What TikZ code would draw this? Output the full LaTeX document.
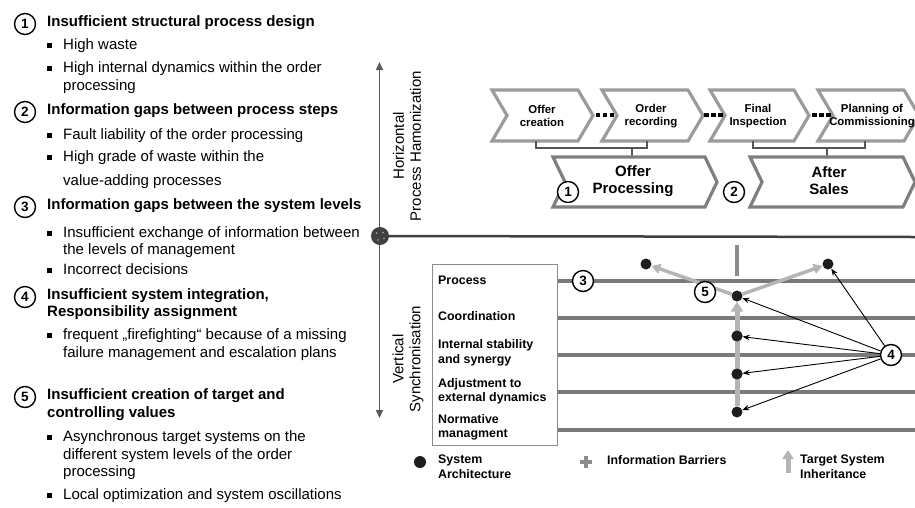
\documentclass[tikz,border=0pt]{standalone}
\usepackage{fontspec}
\setmainfont{Liberation Sans}
\usetikzlibrary{arrows.meta,calc}
\definecolor{axg}{HTML}{5A5A5A}
\definecolor{hax}{HTML}{404040}
\definecolor{lvl}{HTML}{7A7A7A}
\definecolor{chs}{HTML}{9B9B9B}
\definecolor{chb}{HTML}{7F7F7F}
\definecolor{brk}{HTML}{555555}
\definecolor{boxc}{HTML}{8A8A8A}
\definecolor{barr}{HTML}{8C8C8C}
\definecolor{inhc}{HTML}{B5B5B5}
\definecolor{dotc}{HTML}{1E1E1E}
\newcommand\bul{\makebox[16pt][l]{\rule[1.8pt]{4.5pt}{4.5pt}}}
\newcommand\chevshape[6]{%
  \draw[#6] (#1,#3) -- ({#2-#5},#3) -- (#2,{(#3+#4)/2}) -- ({#2-#5},#4) -- (#1,#4) -- ({#1+#5},{(#3+#4)/2}) -- cycle;}
\newcommand\sqdots{\rule{4.5pt}{4.5pt}\hspace{2.5pt}\rule{4.5pt}{4.5pt}\hspace{2.5pt}\rule{4.5pt}{4.5pt}}
\begin{document}
\begin{tikzpicture}[x=1pt,y=-1pt,
  lt/.style={anchor=mid west,inner sep=0pt,font=\fontsize{15}{17}\selectfont},
  lh/.style={anchor=mid west,inner sep=0pt,font=\fontsize{15}{17}\selectfont\bfseries},
  bl/.style={anchor=mid west,inner sep=0pt,font=\fontsize{12.4}{14.5}\selectfont\bfseries},
  cht/.style={align=center,inner sep=0pt,font=\fontsize{11.4}{13}\selectfont\bfseries},
  bigt/.style={align=center,inner sep=0pt,font=\fontsize{15}{17}\selectfont\bfseries},
  numc/.style={circle,draw=black,line width=1.4pt,fill=white,minimum size=21pt,inner sep=0pt,font=\fontsize{13.5}{15}\selectfont\bfseries},
  dotn/.style={circle,fill=dotc,minimum size=11pt,inner sep=0pt},
  lvline/.style={draw=lvl,line width=4pt},
  chsmall/.style={draw=chs,line width=3.2pt,fill=white},
  chbig/.style={draw=chb,line width=3.2pt,fill=white},
  brack/.style={draw=brk,line width=2.5pt},
  garrow/.style={draw=inhc,line width=3.5pt,-{Triangle[length=9pt,width=10pt]}},
  garrowk/.style={draw=inhc,line width=5pt,-{Triangle[length=10pt,width=12pt]}},
  barrow/.style={draw=black,line width=0.9pt,-{Stealth[length=7pt,width=5.5pt]}},
  axisv/.style={draw=axg,line width=1.6pt,{Triangle[length=8pt,width=7pt]}-{Triangle[length=8pt,width=7pt]}},
  axish/.style={draw=hax,line width=2.5pt}]
\useasboundingbox (0,0) rectangle (915,507);
\clip (0,0) rectangle (915,507);

% ---------------- left text column ----------------
\node[numc] (c1) at (25,24) {1};
\node[lh] (h1) at (47,24) {Insufficient structural process design};
\node[lt] (b1) at (47,47) {\bul High waste};
\node[lt] (b2) at (47,70) {\bul High internal dynamics within the order};
\node[lt] (b2b) at (63,88) {processing};
\node[numc] (c2) at (25,112) {2};
\node[lh] (h2) at (47,112) {Information gaps between process steps};
\node[lt] (b3) at (47,137) {\bul Fault liability of the order processing};
\node[lt] (b4) at (47,159) {\bul High grade of waste within the};
\node[lt] (b4b) at (63,183) {value-adding processes};
\node[numc] (c3) at (25,207) {3};
\node[lh] (h3) at (47,207) {Information gaps between the system levels};
\node[lt] (b5) at (47,235) {\bul Insufficient exchange of information between};
\node[lt] (b5b) at (63,252) {the levels of management};
\node[lt] (b6) at (47,272) {\bul Incorrect decisions};
\node[numc] (c4) at (25,297) {4};
\node[lh] (h4) at (47,297) {Insufficient system integration,};
\node[lh] (h4b) at (47,314) {Responsibility assignment};
\node[lt] (b7) at (47,337) {\bul frequent „firefighting“ because of a missing};
\node[lt] (b7b) at (63,355) {failure management and escalation plans};
\node[numc] (c5) at (25,397) {5};
\node[lh] (h5) at (47,397) {Insufficient creation of target and};
\node[lh] (h5b) at (47,415) {controlling values};
\node[lt] (b8) at (47,439) {\bul Asynchronous target systems on the};
\node[lt] (b8b) at (63,457) {different system levels of the order};
\node[lt] (b8c) at (63,474) {processing};
\node[lt] (b9) at (47,497) {\bul Local optimization and system oscillations};

% ---------------- axes ----------------
\coordinate (vtop) at (379.5,62);
\coordinate (vbot) at (379.5,418);
\coordinate (hend) at (915,237);
\draw[axisv] (vtop) -- (vbot);
\node[circle,fill=hax,minimum size=18pt,inner sep=0pt] (o) at (380,236) {};
\draw[axish] (o) -- (hend);
\foreach \dx/\dy [count=\i] in {-3.5/-3,3/-3.5,-2/4,4/2.5}
  \node[circle,fill=gray!70,minimum size=1.6pt,inner sep=0pt] (sp\i) at ($(o)+(\dx,\dy)$) {};
\node[rotate=90,align=center,font=\fontsize{15}{17}\selectfont] (hph) at (407,146) {Horizontal\\Process Hamonization};
\node[rotate=90,align=center,font=\fontsize{15}{17}\selectfont] (vsy) at (408,359) {Vertical\\Synchronisation};

% ---------------- process chevrons ----------------
\chevshape{492}{593}{90}{141}{15}{chsmall}
\chevshape{602}{703}{90}{141}{15}{chsmall}
\chevshape{710}{809}{90}{141}{15}{chsmall}
\chevshape{818}{919}{90}{141}{15}{chsmall}
\node[cht] (t1) at (542,116) {Offer\\creation};
\node[cht] (t2) at (651,116) {Order\\recording};
\node[cht] (t3) at (758,116) {Final\\Inspection};
\node[cht] (t4) at (872,116) {Planning of\\Commissioning};
\node[inner sep=0pt] (dd1) at (605,115) {\sqdots};
\node[inner sep=0pt] (dd2) at (713.5,115) {\sqdots};
\node[inner sep=0pt] (dd3) at (821.5,115) {\sqdots};

% brackets
\coordinate (ba1) at (536,141); \coordinate (ba2) at (647,141);
\coordinate (bam) at (632,148); \coordinate (bat) at (632,157);
\draw[brack] (ba1) -- (536,148) -- (647,148) -- (ba2);
\draw[brack] (bam) -- (bat);
\coordinate (bb1) at (753,141); \coordinate (bb2) at (865,141);
\coordinate (bbm) at (827,148); \coordinate (bbt) at (827,157);
\draw[brack] (bb1) -- (753,148) -- (865,148) -- (bb2);
\draw[brack] (bbm) -- (bbt);

\chevshape{553}{717}{157}{207}{12}{chbig}
\chevshape{750}{915}{157}{207}{12}{chbig}
\node[bigt] (op) at (633,181) {Offer\\Processing};
\node[bigt] (as) at (829,181) {After\\Sales};
\node[numc] (n1) at (568,192) {1};
\node[numc] (n2) at (734,192) {2};

% ---------------- system levels ----------------
\node[draw=boxc,line width=0.8pt,fill=white,minimum width=125pt,minimum height=181pt,anchor=north west,inner sep=0pt] (box) at (432,264) {};
\foreach \yy in {281,318,355,392,430}
  \draw[lvline] (box.east |- 0,\yy) -- (915,\yy);
\node[bl] (l1) at (438,282) {Process};
\node[bl] (l2) at (438,318) {Coordination};
\node[bl] (l3) at (438,346) {Internal stability};
\node[bl] (l3b) at (438,361) {and synergy};
\node[bl] (l4) at (438,385) {Adjustment to};
\node[bl] (l4b) at (438,399) {external dynamics};
\node[bl] (l5) at (438,421) {Normative};
\node[bl] (l5b) at (438,435) {managment};
\node[numc] (n3) at (583,281) {3};

% information barrier
\coordinate (ib1) at (737,245); \coordinate (ib2) at (737,276);
\draw[draw=barr,line width=4pt] (ib1) -- (ib2);

% system architecture dots
\node[dotn] (d0) at (646,264) {};
\node[dotn] (d1) at (828,264) {};
\node[dotn] (dc) at (737,296) {};
\node[dotn] (d2) at (737,336) {};
\node[dotn] (d3) at (737,374) {};
\node[dotn] (d4) at (737,412) {};
\draw[garrowk] (d4) -- (dc);
\draw[garrow] (dc) -- (d0);
\draw[garrow] (dc) -- (d1);
\node[dotn] (d2r) at (737,336) {};
\node[dotn] (d3r) at (737,374) {};
\node[numc] (n5) at (705,292) {5};
\node[numc] (n4) at (891,355) {4};
\foreach \t in {d1,dc,d2,d3,d4}
  \draw[barrow] (n4) -- (\t);

% ---------------- legend ----------------
\node[dotn,minimum size=12pt] (ld) at (420,462) {};
\node[bl] (lt1) at (438,461) {System};
\node[bl] (lt2) at (438,476) {Architecture};
\coordinate (pl1) at (580,462); \coordinate (pl2) at (592,462);
\coordinate (pl3) at (586,456); \coordinate (pl4) at (586,468);
\draw[draw=barr,line width=4pt] (pl1) -- (pl2);
\draw[draw=barr,line width=4pt] (pl3) -- (pl4);
\node[bl] (lt3) at (607,462) {Information Barriers};
\coordinate (la1) at (788,473); \coordinate (la2) at (788,450);
\draw[draw=inhc,line width=5pt,-{Triangle[length=9pt,width=11pt]}] (la1) -- (la2);
\node[bl] (lt4) at (800,461) {Target System};
\node[bl] (lt5) at (800,476) {Inheritance};
\end{tikzpicture}
\end{document}
